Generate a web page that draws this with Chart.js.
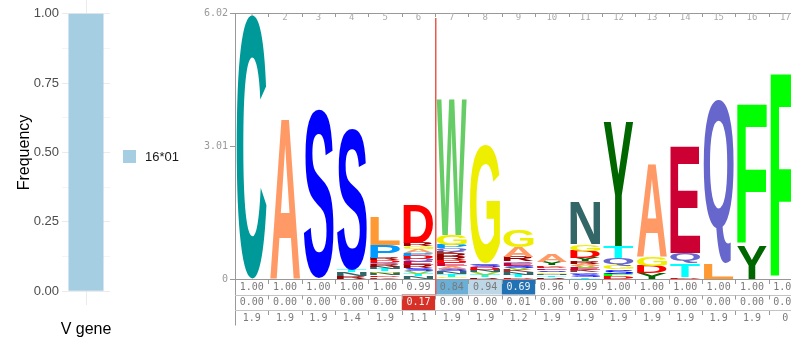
<!DOCTYPE html>
<html>
<head>
<meta charset="utf-8">
<script src="https://cdn.jsdelivr.net/npm/chart.js@4.4.1/dist/chart.umd.min.js"></script>
<style>
  html, body { margin: 0; padding: 0; overflow: hidden; background: #fff; width: 791px; height: 341px; }
  #vgene { position: absolute; left: 0; top: 0; }
  #logo { position: absolute; left: 190px; top: 0; }
</style>
</head>
<body>
<canvas id="vgene" width="190" height="341"></canvas>
<canvas id="logo" width="612" height="341"></canvas>
<script>
// V gene usage
var vGenes = ["16*01"];
var vFreq = [1.0];
var freqTicks = [0, 0.125, 0.25, 0.375, 0.5, 0.625, 0.75, 0.875, 1];

// sequence logo, letters listed bottom -> top per position
var positions = ["1","2","3","4","5","6","7","8","9","10","11","12","13","14","15","16","17"];
var logoTicks = [0, 3.01, 6.02];
var stackLetters = [
  "C",
  "A",
  "S",
  "RNTS",
  "KDNGTNRQDRPL",
  "NTVSREQDPAGRD",
  "GTNSAEDRRKQPGW",
  "RTVNDSQG",
  "DTNKVSEQRAG",
  "RTNGSEDKYA",
  "TSQKEVARYDGN",
  "DFSGQTY",
  "YDGA",
  "DTQE",
  "LQ",
  "YF",
  "F"
];
var stackHeights = [
  [5.98],
  [3.66],
  [3.84],
  [0.06, 0.09, 0.06, 3.18],
  [0.04, 0.04, 0.05, 0.04, 0.05, 0.05, 0.05, 0.05, 0.05, 0.06, 0.30, 0.64],
  [0.06, 0.06, 0.06, 0.07, 0.07, 0.07, 0.07, 0.07, 0.06, 0.08, 0.07, 0.08, 0.86],
  [0.05, 0.06, 0.06, 0.06, 0.06, 0.07, 0.06, 0.07, 0.07, 0.06, 0.07, 0.08, 0.23, 3.07],
  [0.05, 0.05, 0.06, 0.05, 0.05, 0.05, 0.05, 2.68],
  [0.05, 0.05, 0.05, 0.05, 0.05, 0.05, 0.05, 0.05, 0.10, 0.22, 0.39],
  [0.04, 0.04, 0.04, 0.04, 0.04, 0.04, 0.04, 0.04, 0.07, 0.16],
  [0.05, 0.05, 0.05, 0.05, 0.05, 0.05, 0.05, 0.05, 0.08, 0.16, 0.16, 0.98],
  [0.06, 0.06, 0.10, 0.08, 0.18, 0.27, 2.80],
  [0.14, 0.16, 0.20, 2.11],
  [0.05, 0.30, 0.23, 2.41],
  [0.36, 3.72],
  [0.77, 3.18],
  [4.64]
];
// rows under the logo
var identityRow = [1.00, 1.00, 1.00, 1.00, 1.00, 0.99, 0.84, 0.94, 0.69, 0.96, 0.99, 1.00, 1.00, 1.00, 1.00, 1.00, 1.00];
var gapRow = [0, 0, 0, 0, 0, 0.17, 0, 0, 0.01, 0, 0, 0, 0, 0, 0, 0, 0];
var entropyRow = [1.9, 1.9, 1.9, 1.4, 1.9, 1.1, 1.9, 1.9, 1.2, 1.9, 1.9, 1.9, 1.9, 1.9, 1.9, 1.9, 0];

var aaColors = {
  A: "#FF9966", C: "#009999", D: "#FF0000", E: "#CC0033", F: "#00FF00",
  G: "#EEEE00", H: "#660033", I: "#669900", K: "#993333", L: "#FF9933",
  M: "#009900", N: "#336666", P: "#0099FF", Q: "#6666CC", R: "#990000",
  S: "#0000FF", T: "#00FFFF", V: "#99CC33", W: "#66CC66", Y: "#006600"
};

var mono = "'DejaVu Sans Mono', monospace";
Chart.defaults.font.family = "'Liberation Sans', Arial, sans-serif";

// left: V gene frequency
var vgeneLegend = {
  id: "vgeneLegend",
  afterDraw: function (chart) {
    var ctx = chart.ctx;
    var a = chart.chartArea;
    var ds = chart.data.datasets[0];
    ctx.save();
    ctx.fillStyle = ds.backgroundColor;
    ctx.fillRect(a.right + 13, 150, 13, 13);
    ctx.fillStyle = "#1a1a1a";
    ctx.font = "13px 'Liberation Sans', Arial, sans-serif";
    ctx.textBaseline = "middle";
    ctx.fillText(ds.label, a.right + 35, 157);
    ctx.restore();
  }
};

new Chart(document.getElementById("vgene").getContext("2d"), {
  type: "bar",
  data: {
    labels: ["V gene"],
    datasets: [{
      label: vGenes[0],
      data: vFreq,
      backgroundColor: "#A6CEE3",
      barPercentage: 0.73,
      categoryPercentage: 1
    }]
  },
  options: {
    responsive: false,
    animation: false,
    events: [],
    layout: { padding: { right: 80 } },
    plugins: { legend: { display: false }, tooltip: { enabled: false } },
    scales: {
      x: {
        grid: { color: "#ebebeb", offset: false, drawTicks: false },
        border: { display: false },
        ticks: { color: "#000", font: { size: 16 }, padding: 15 },
        afterFit: function (s) { s.height = 36; s.paddingLeft = 0; s.paddingRight = 0; }
      },
      y: {
        min: -0.05,
        max: 1.05,
        border: { display: false },
        grid: {
          drawTicks: false,
          color: function (c) {
            return (c.tick && Math.abs(c.tick.value * 4 - Math.round(c.tick.value * 4)) < 1e-6) ? "#ebebeb" : "#f5f5f5";
          }
        },
        afterBuildTicks: function (s) { s.ticks = freqTicks.map(function (v) { return { value: v }; }); },
        ticks: {
          color: "#4d4d4d",
          font: { size: 13 },
          padding: 3,
          callback: function (v) {
            return Math.abs(v * 4 - Math.round(v * 4)) < 1e-6 ? Number(v).toFixed(2) : "";
          }
        },
        title: { display: true, text: "Frequency", color: "#000", font: { size: 16 }, padding: { top: 15, bottom: 0 } },
        afterFit: function (s) { s.width = 62; s.paddingTop = 0; s.paddingBottom = 0; }
      }
    }
  },
  plugins: [vgeneLegend]
});

// right: sequence logo drawn as stacked bars filled with letters
function drawLetter(ctx, ch, x0, y0, w, h, color) {
  if (h < 0.4 || w <= 0) return;
  ctx.save();
  ctx.font = "bold 100px 'Liberation Sans', Arial, sans-serif";
  ctx.textAlign = "left";
  ctx.textBaseline = "alphabetic";
  var m = ctx.measureText(ch);
  var gl = m.actualBoundingBoxLeft, gr = m.actualBoundingBoxRight;
  var ga = m.actualBoundingBoxAscent, gd = m.actualBoundingBoxDescent;
  ctx.translate(x0, y0);
  ctx.scale(w / (gl + gr), h / (ga + gd));
  ctx.fillStyle = color;
  ctx.fillText(ch, gl, ga);
  ctx.restore();
}

var logoLetters = {
  id: "logoLetters",
  afterDatasetsDraw: function (chart) {
    var ctx = chart.ctx;
    chart.data.datasets.forEach(function (ds, i) {
      chart.getDatasetMeta(i).data.forEach(function (bar, j) {
        var ch = ds.letters[j];
        if (!ch) return;
        var p = bar.getProps(["x", "y", "base", "width"], true);
        drawLetter(ctx, ch, p.x - p.width / 2, p.y, p.width, p.base - p.y, aaColors[ch]);
      });
    });
  }
};

function identityFill(v) {
  if (v < 0.75) return "#2171b5";
  if (v < 0.9) return "#6baed6";
  if (v < 0.95) return "#bdd7e7";
  return null;
}

var logoTable = {
  id: "logoTable",
  afterDraw: function (chart) {
    var ctx = chart.ctx;
    var a = chart.chartArea;
    var x = chart.scales.x;
    var colW = x.getPixelForValue(1) - x.getPixelForValue(0);
    var rowH = 15.5;
    var tops = [a.bottom, a.bottom + rowH, a.bottom + 2 * rowH];
    var rows = [
      identityRow.map(function (v) { return { text: v.toFixed(2), fill: identityFill(v), dark: v < 0.75 }; }),
      gapRow.map(function (v) { return { text: v.toFixed(2), fill: v >= 0.1 ? "#d73027" : null, dark: v >= 0.1 }; }),
      entropyRow.map(function (v) { return { text: v === 0 ? "0" : v.toFixed(1), fill: null, dark: false }; })
    ];
    ctx.save();
    // cell fills
    rows.forEach(function (row, r) {
      row.forEach(function (cell, j) {
        if (!cell.fill) return;
        var left = x.getPixelForValue(j) - colW / 2;
        ctx.fillStyle = cell.fill;
        ctx.fillRect(left, tops[r], colW, rowH);
      });
    });
    // lines
    ctx.lineWidth = 1;
    ctx.strokeStyle = "#999";
    ctx.beginPath();
    ctx.moveTo(a.left, a.bottom + 0.5); ctx.lineTo(a.right, a.bottom + 0.5);
    ctx.moveTo(a.left + 0.5, a.bottom); ctx.lineTo(a.left + 0.5, a.bottom + 3 * rowH);
    ctx.stroke();
    ctx.strokeStyle = "#c4c4c4";
    ctx.beginPath();
    [tops[1], tops[2]].forEach(function (t) {
      ctx.moveTo(a.left, Math.round(t) + 0.5); ctx.lineTo(a.right, Math.round(t) + 0.5);
    });
    ctx.stroke();
    // boundary ticks: top axis and each row
    ctx.strokeStyle = "#999";
    ctx.beginPath();
    for (var k = 1; k < positions.length; k++) {
      var bx = Math.round(x.getPixelForValue(k) - colW / 2) + 0.5;
      ctx.moveTo(bx, a.top); ctx.lineTo(bx, a.top + 4);
      tops.forEach(function (t) { ctx.moveTo(bx, t + 1); ctx.lineTo(bx, t + 5); });
    }
    ctx.stroke();
    // red marker between positions 6 and 7
    var rx = Math.round(x.getPixelForValue(5) + colW / 2);
    ctx.fillStyle = "#ea5a4c";
    ctx.fillRect(rx, a.top + 5, 1.5, tops[1] - a.top - 5);
    // texts
    ctx.font = "10px " + mono;
    ctx.textAlign = "center";
    ctx.textBaseline = "middle";
    rows.forEach(function (row, r) {
      row.forEach(function (cell, j) {
        ctx.fillStyle = cell.dark ? "#f2f2f2" : "#7a7a7a";
        ctx.fillText(cell.text, x.getPixelForValue(j), tops[r] + rowH / 2 + 0.5);
      });
    });
    ctx.restore();
  }
};

var maxDepth = Math.max.apply(null, stackHeights.map(function (h) { return h.length; }));
var logoSets = [];
for (var k = 0; k < maxDepth; k++) {
  logoSets.push({
    label: "layer " + (k + 1),
    data: stackHeights.map(function (h) { return h[k] || 0; }),
    letters: stackLetters.map(function (s) { return s[k] || null; }),
    backgroundColor: "rgba(0,0,0,0)",
    borderWidth: 0,
    barPercentage: 0.9,
    categoryPercentage: 1
  });
}

new Chart(document.getElementById("logo").getContext("2d"), {
  type: "bar",
  data: { labels: positions, datasets: logoSets },
  options: {
    responsive: false,
    animation: false,
    events: [],
    layout: { padding: { top: 13, bottom: 62, left: 0, right: 0 } },
    plugins: { legend: { display: false }, tooltip: { enabled: false } },
    scales: {
      x: {
        position: "top",
        stacked: true,
        grid: { display: false },
        border: { color: "#999" },
        ticks: {
          mirror: true, padding: 0, color: "#aaa", autoSkip: false, maxRotation: 0,
          font: { family: mono, size: 9, lineHeight: 1 }
        },
        afterFit: function (s) { s.height = 0; }
      },
      y: {
        stacked: true,
        min: 0,
        max: 6.02,
        grid: { drawOnChartArea: false, tickLength: 5, color: "#999" },
        border: { color: "#999" },
        afterBuildTicks: function (s) { s.ticks = logoTicks.map(function (v) { return { value: v }; }); },
        ticks: {
          padding: 2, color: "#999",
          font: { family: mono, size: 10 },
          callback: function (v) { return v === 0 ? "0" : Number(v).toFixed(2); }
        },
        afterFit: function (s) { s.width = 45; }
      }
    }
  },
  plugins: [logoLetters, logoTable]
});
</script>
</body>
</html>
